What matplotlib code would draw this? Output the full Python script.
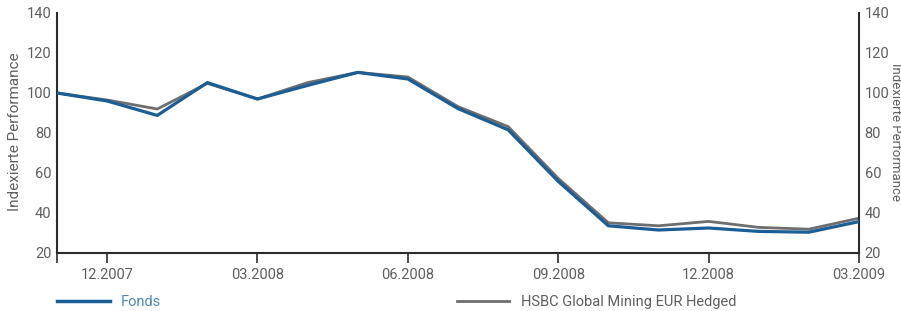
import matplotlib
matplotlib.use("Agg")
import matplotlib.pyplot as plt

plt.rcParams['font.family'] = ['Roboto', 'DejaVu Sans']

# monthly values, 11.2007 .. 03.2009
MONTHS = ["11.2007", "12.2007", "01.2008", "02.2008", "03.2008", "04.2008",
          "05.2008", "06.2008", "07.2008", "08.2008", "09.2008", "10.2008",
          "11.2008", "12.2008", "01.2009", "02.2009", "03.2009"]
FONDS = [100, 96, 88.8, 105.2, 97, 103.8, 110.3, 107, 92.2, 81.6, 55.8,
         33.6, 31.5, 32.5, 30.8, 30.4, 35.7]
HSBC = [100, 96.5, 92, 104.8, 97, 105.2, 110.3, 108, 93.2, 83.2, 57.3,
        35.1, 33.6, 35.8, 32.8, 31.9, 37.4]
TICK_LABELS = ["12.2007", "03.2008", "06.2008", "09.2008", "12.2008", "03.2009"]

BLUE = "#1b5e95"
GRAY = "#6e6e6e"
TEXT = "#5f5f5f"
SPINE = "#2b2b2b"

fig = plt.figure(figsize=(9.01, 3.11), dpi=100)
ax = fig.add_axes([57 / 901, 58 / 311, 802 / 901, 240 / 311])

x = list(range(len(MONTHS)))
ax.plot(x, HSBC, color=GRAY, lw=2.0, zorder=2, solid_joinstyle='miter')
ax.plot(x, FONDS, color=BLUE, lw=2.3, zorder=3, solid_joinstyle='miter')

ax.set_xlim(0, len(MONTHS) - 1)
ax.set_ylim(20, 140)
ax.set_yticks(range(20, 141, 20))
ticks = [MONTHS.index(t) for t in TICK_LABELS]
ax.set_xticks([0] + ticks)
ax.set_xticklabels([""] + TICK_LABELS)

ax.spines["top"].set_visible(False)
for s in ["left", "right", "bottom"]:
    ax.spines[s].set_color(SPINE)
    ax.spines[s].set_linewidth(1.5)

ax.tick_params(axis='x', length=7, width=1.2, color=SPINE, colors=TEXT,
               labelsize=10.5, pad=4)
ax.tick_params(axis='y', length=0, colors=TEXT, labelsize=10.5, pad=4,
               labelright=True)

fig.text(15 / 901, 0.575, "Indexierte Performance", rotation=90,
         ha='center', va='center', color=TEXT, fontsize=11)
fig.text(896 / 901, 0.575, "Indexierte Performance", rotation=270,
         ha='center', va='center', color=TEXT, fontsize=9.5)

# legend
h1, = ax.plot([], [], color=BLUE, lw=2.5)
h2, = ax.plot([], [], color=GRAY, lw=2.0)
leg1 = ax.legend([h1], ["Fonds"], loc='center left', bbox_to_anchor=(0, -0.205),
                 frameon=False, handlelength=3.6, handletextpad=0.8,
                 borderpad=0, borderaxespad=0, fontsize=10.5)
leg1.get_texts()[0].set_color("#4f86b5")
ax.add_artist(leg1)
leg2 = ax.legend([h2], ["HSBC Global Mining EUR Hedged"], loc='center left',
                 bbox_to_anchor=(400 / 802, -0.205), frameon=False,
                 handlelength=3.6, handletextpad=0.8, borderpad=0,
                 borderaxespad=0, fontsize=10.5)
leg2.get_texts()[0].set_color(TEXT)

fig.savefig("out.png", dpi=100)
